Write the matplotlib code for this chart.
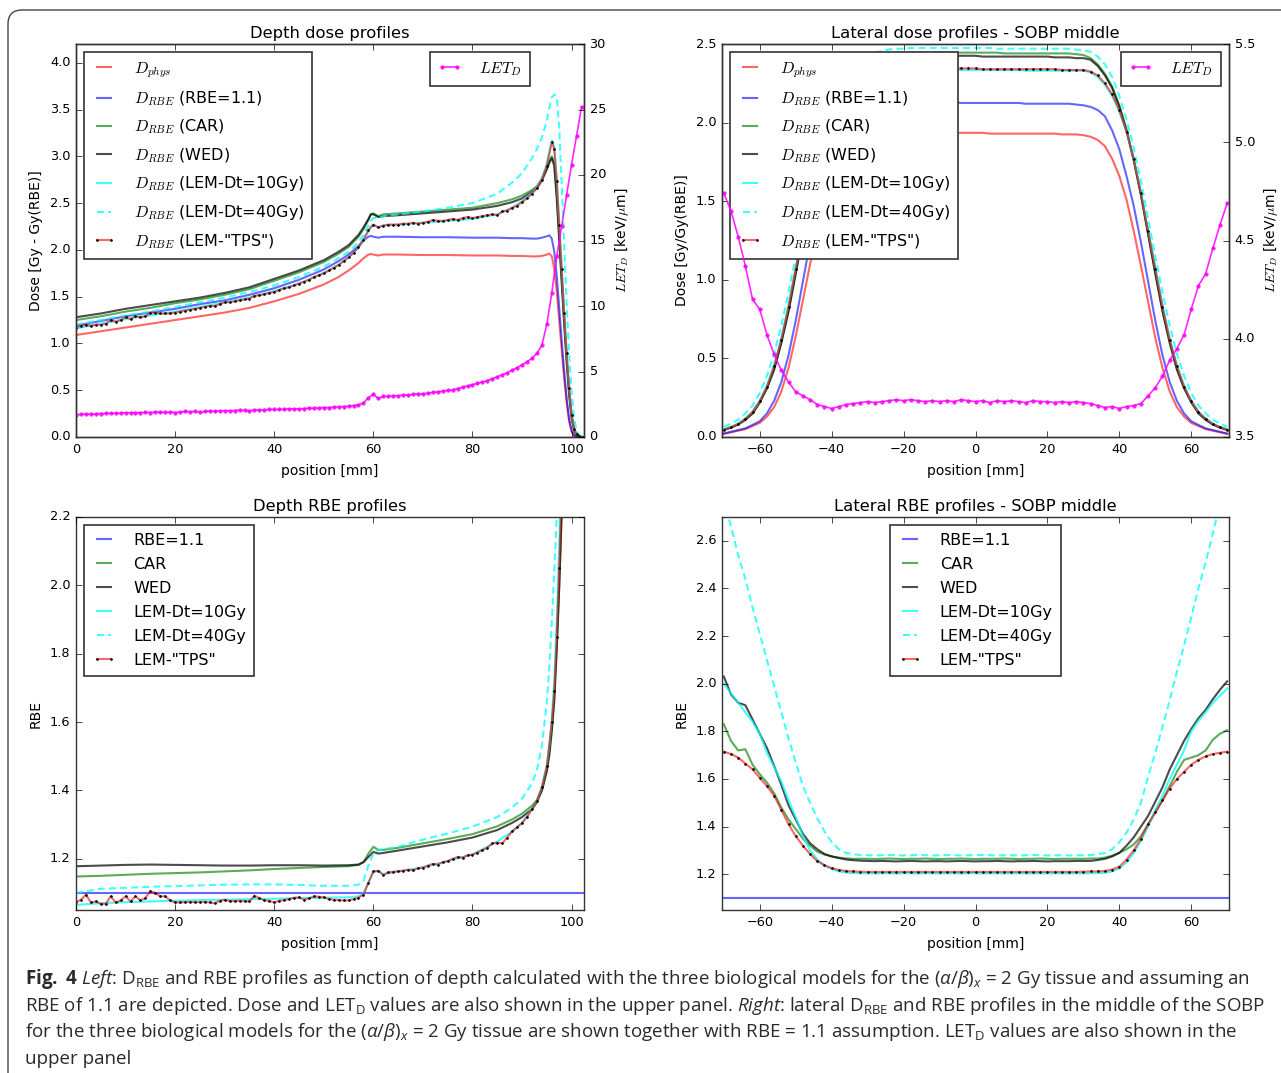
import numpy as np
import matplotlib
matplotlib.use('Agg')
import matplotlib.pyplot as plt
from matplotlib.patches import FancyBboxPatch
from matplotlib.transforms import IdentityTransform

# ---------------- depth profiles (left column) ----------------
depth_x = [0, 5, 10, 15, 20, 25, 30, 35, 40, 45, 50, 53, 55, 57, 58, 59, 59.5, 60, 61, 62,
           65, 70, 75, 80, 85, 88, 90, 92, 93, 94, 95, 95.5, 96, 96.5, 97, 97.5, 98, 98.5,
           99, 99.5, 100, 100.5, 101, 101.5, 102, 102.5]
dose_phys = [1.09, 1.13, 1.17, 1.21, 1.25, 1.29, 1.33, 1.38, 1.45, 1.53, 1.63, 1.71, 1.78, 1.86, 1.91,
             1.95, 1.955, 1.95, 1.94, 1.95, 1.95, 1.945, 1.945, 1.94, 1.94, 1.935, 1.935, 1.93, 1.93,
             1.935, 1.95, 1.96, 1.93, 1.80, 1.56, 1.25, 0.93, 0.63, 0.37, 0.17, 0.06, 0.015, 0.003,
             0, 0, 0]
dose_rbe11 = [1.19, 1.24, 1.29, 1.33, 1.37, 1.42, 1.46, 1.52, 1.59, 1.68, 1.79, 1.88, 1.95, 2.04, 2.10,
              2.14, 2.15, 2.14, 2.13, 2.14, 2.14, 2.135, 2.135, 2.13, 2.13, 2.125, 2.125, 2.12, 2.12,
              2.13, 2.145, 2.155, 2.12, 1.98, 1.72, 1.38, 1.03, 0.70, 0.41, 0.19, 0.065, 0.017, 0.003,
              0, 0, 0]
dose_car = [1.25, 1.29, 1.34, 1.38, 1.43, 1.47, 1.52, 1.58, 1.67, 1.76, 1.87, 1.96, 2.03, 2.14, 2.22,
            2.32, 2.38, 2.39, 2.36, 2.38, 2.39, 2.41, 2.43, 2.45, 2.50, 2.54, 2.58, 2.64, 2.68, 2.76,
            2.88, 2.95, 3.00, 2.93, 2.60, 2.15, 1.70, 1.25, 0.85, 0.48, 0.22, 0.08, 0.03, 0.01, 0, 0]
dose_wed = [1.28, 1.32, 1.37, 1.41, 1.45, 1.49, 1.54, 1.60, 1.69, 1.78, 1.89, 1.98, 2.05, 2.16, 2.24,
            2.33, 2.38, 2.38, 2.35, 2.36, 2.37, 2.39, 2.41, 2.43, 2.47, 2.51, 2.55, 2.62, 2.66, 2.74,
            2.86, 2.93, 2.98, 2.90, 2.55, 2.10, 1.65, 1.20, 0.80, 0.45, 0.20, 0.07, 0.02, 0.005, 0, 0]
dose_lem10 = [1.16, 1.21, 1.26, 1.30, 1.34, 1.39, 1.44, 1.49, 1.56, 1.64, 1.75, 1.84, 1.92, 2.02, 2.10,
              2.20, 2.25, 2.27, 2.24, 2.26, 2.27, 2.29, 2.31, 2.33, 2.38, 2.45, 2.52, 2.61, 2.67, 2.76,
              2.92, 3.05, 3.17, 3.10, 2.75, 2.28, 1.80, 1.33, 0.90, 0.52, 0.24, 0.09, 0.03, 0.01, 0, 0]
dose_lem40 = [1.20, 1.25, 1.30, 1.34, 1.39, 1.44, 1.49, 1.55, 1.62, 1.71, 1.82, 1.91, 1.98, 2.08, 2.16,
              2.26, 2.31, 2.34, 2.34, 2.36, 2.38, 2.41, 2.45, 2.50, 2.60, 2.72, 2.82, 2.98, 3.08, 3.20,
              3.38, 3.52, 3.63, 3.66, 3.64, 3.30, 2.70, 2.05, 1.42, 0.90, 0.48, 0.20, 0.07, 0.02,
              0.005, 0]

tps_depth_x = np.concatenate([np.arange(0, 97), np.arange(96.5, 102.6, 0.5)])
dose_tps = [1.17, 1.19, 1.20, 1.19, 1.20, 1.20, 1.21, 1.25, 1.23, 1.25,
            1.28, 1.26, 1.29, 1.28, 1.29, 1.33, 1.33, 1.32, 1.32, 1.32,
            1.33, 1.34, 1.35, 1.36, 1.37, 1.38, 1.39, 1.40, 1.40, 1.42,
            1.44, 1.44, 1.45, 1.46, 1.47, 1.48, 1.51, 1.515, 1.525, 1.54,
            1.55, 1.57, 1.59, 1.60, 1.62, 1.64, 1.66, 1.68, 1.71, 1.73,
            1.75, 1.78, 1.81, 1.84, 1.88, 1.92, 1.97, 2.03, 2.11, 2.21,
            2.27, 2.24, 2.26, 2.27, 2.27, 2.27, 2.28, 2.28, 2.29, 2.28,
            2.29, 2.30, 2.32, 2.31, 2.31, 2.32, 2.33, 2.32, 2.34, 2.35,
            2.34, 2.35, 2.36, 2.37, 2.38, 2.37, 2.41, 2.42, 2.45, 2.47,
            2.51, 2.55, 2.60, 2.66, 2.75, 2.90, 3.15,
            3.08, 2.74, 2.27, 1.80, 1.33, 0.90, 0.52, 0.24, 0.09, 0.03, 0.01, 0.0, 0.0]

let_depth_x = np.arange(0, 103)
let_depth = [1.70, 1.72, 1.75, 1.75, 1.76, 1.78, 1.80, 1.80, 1.80, 1.82, 1.85,
             1.85, 1.86, 1.85, 1.88, 1.86, 1.90, 1.90, 1.88, 1.90, 1.87,
             1.90, 1.95, 1.93, 1.95, 1.90, 1.95, 1.98, 1.95, 2.00, 2.00,
             2.00, 2.02, 2.05, 2.03, 2.00, 2.05, 2.05, 2.08, 2.10, 2.10,
             2.10, 2.12, 2.15, 2.14, 2.15, 2.17, 2.20, 2.20, 2.22, 2.25,
             2.25, 2.27, 2.30, 2.32, 2.35, 2.40, 2.45, 2.60, 3.00, 3.25,
             2.95, 3.10, 3.10, 3.15, 3.15, 3.20, 3.20, 3.25, 3.30, 3.30,
             3.35, 3.40, 3.45, 3.50, 3.55, 3.60, 3.70, 3.80, 3.90, 4.00,
             4.10, 4.20, 4.30, 4.45, 4.60, 4.75, 4.90, 5.10, 5.30, 5.50,
             5.75, 6.00, 6.40, 7.00, 8.60, 11.0, 13.8, 16.1, 18.5, 20.8, 23.0, 25.2]

rbe_depth_x = [0, 5, 10, 15, 20, 25, 30, 35, 40, 45, 50, 55, 57, 58, 59, 60, 61, 62, 65, 70,
               75, 80, 85, 88, 90, 92, 93, 94, 95, 95.5, 96, 96.5, 97, 97.5, 98, 98.5]
rbe11_depth_x = [0, 102.5]
rbe11_depth = [1.1, 1.1]
rbe_car = [1.148, 1.150, 1.153, 1.156, 1.158, 1.160, 1.163, 1.166, 1.170, 1.173, 1.176, 1.178,
           1.182, 1.190, 1.215, 1.235, 1.226, 1.226, 1.232, 1.245, 1.258, 1.272, 1.295, 1.315,
           1.332, 1.355, 1.372, 1.400, 1.455, 1.50, 1.57, 1.66, 1.81, 1.99, 2.21, 2.50]
rbe_wed = [1.178, 1.180, 1.182, 1.183, 1.182, 1.181, 1.180, 1.180, 1.181, 1.181, 1.180, 1.181,
           1.183, 1.190, 1.205, 1.220, 1.215, 1.217, 1.224, 1.236, 1.248, 1.262, 1.284, 1.305,
           1.322, 1.345, 1.365, 1.400, 1.46, 1.51, 1.58, 1.67, 1.82, 2.00, 2.22, 2.50]
rbe_lem10 = [1.065, 1.070, 1.073, 1.075, 1.077, 1.079, 1.080, 1.082, 1.083, 1.085, 1.086, 1.087,
             1.090, 1.097, 1.130, 1.160, 1.165, 1.155, 1.163, 1.175, 1.193, 1.213, 1.250, 1.280,
             1.305, 1.345, 1.370, 1.410, 1.475, 1.53, 1.61, 1.72, 1.90, 2.12, 2.38, 2.70]
rbe_lem40 = [1.100, 1.112, 1.115, 1.118, 1.120, 1.122, 1.124, 1.125, 1.125, 1.123, 1.121, 1.121,
             1.124, 1.135, 1.180, 1.215, 1.225, 1.228, 1.235, 1.256, 1.274, 1.294, 1.322, 1.350,
             1.376, 1.420, 1.460, 1.530, 1.66, 1.76, 1.89, 2.04, 2.20, 2.42, 2.70, 3.00]
tps_rbe_x = np.concatenate([np.arange(0, 97), [96.5, 97, 97.5, 98]])
rbe_tps = [1.073, 1.080, 1.095, 1.072, 1.075, 1.068, 1.068, 1.090, 1.072, 1.078,
           1.090, 1.075, 1.090, 1.078, 1.085, 1.105, 1.100, 1.090, 1.090, 1.078,
           1.072, 1.072, 1.073, 1.074, 1.073, 1.073, 1.074, 1.072, 1.070, 1.077,
           1.080, 1.076, 1.076, 1.077, 1.076, 1.075, 1.092, 1.085, 1.078, 1.077,
           1.072, 1.077, 1.079, 1.082, 1.086, 1.087, 1.080, 1.084, 1.090, 1.089,
           1.087, 1.082, 1.080, 1.079, 1.078, 1.078, 1.082, 1.086, 1.095, 1.130,
           1.163, 1.165, 1.152, 1.160, 1.162, 1.163, 1.165, 1.168, 1.166, 1.172,
           1.174, 1.180, 1.185, 1.183, 1.190, 1.193, 1.200, 1.205, 1.203, 1.210,
           1.212, 1.218, 1.225, 1.232, 1.245, 1.247, 1.245, 1.262, 1.280, 1.292,
           1.305, 1.322, 1.345, 1.370, 1.410, 1.470, 1.600,
           1.69, 1.85, 2.05, 2.30]

# ---------------- lateral profiles (right column), x = -70..70 step 2 ----------------
lat_x = np.arange(-70, 71, 2)
lat_phys = [0.02, 0.03, 0.04, 0.05, 0.07, 0.09, 0.13, 0.19, 0.29, 0.44,
            0.64, 0.87, 1.10, 1.32, 1.52, 1.66, 1.77, 1.85, 1.90, 1.92,
            1.93, 1.93, 1.935, 1.935, 1.935, 1.935, 1.935, 1.94, 1.935, 1.935,
            1.935, 1.935, 1.935, 1.935, 1.935, 1.935, 1.935, 1.93, 1.93, 1.93,
            1.93, 1.93, 1.93, 1.93, 1.93, 1.93, 1.93, 1.925, 1.925, 1.925,
            1.92, 1.91, 1.89, 1.85, 1.77, 1.66, 1.51, 1.31, 1.09, 0.86,
            0.63, 0.44, 0.29, 0.19, 0.13, 0.09, 0.07, 0.05, 0.04, 0.03,
            0.02]
lat_rbe11 = [0.022, 0.033, 0.044, 0.055, 0.077, 0.10, 0.15, 0.23, 0.35, 0.52,
             0.74, 0.99, 1.24, 1.47, 1.67, 1.83, 1.95, 2.04, 2.09, 2.11,
             2.12, 2.125, 2.125, 2.13, 2.13, 2.13, 2.13, 2.13, 2.13, 2.13,
             2.13, 2.13, 2.13, 2.125, 2.125, 2.125, 2.125, 2.125, 2.125, 2.125,
             2.125, 2.125, 2.12, 2.12, 2.12, 2.12, 2.12, 2.12, 2.12, 2.115,
             2.11, 2.10, 2.08, 2.04, 1.95, 1.83, 1.66, 1.47, 1.24, 0.99,
             0.74, 0.52, 0.35, 0.23, 0.15, 0.10, 0.077, 0.055, 0.044, 0.033,
             0.022]
lat_car = [0.045, 0.06, 0.08, 0.11, 0.15, 0.22, 0.31, 0.43, 0.60, 0.80,
           1.04, 1.29, 1.54, 1.76, 1.95, 2.11, 2.23, 2.31, 2.37, 2.41,
           2.43, 2.44, 2.44, 2.44, 2.445, 2.445, 2.445, 2.445, 2.445, 2.445,
           2.445, 2.445, 2.445, 2.445, 2.445, 2.445, 2.445, 2.445, 2.445, 2.44,
           2.44, 2.44, 2.44, 2.44, 2.44, 2.44, 2.44, 2.44, 2.44, 2.435,
           2.43, 2.41, 2.37, 2.31, 2.23, 2.11, 1.955, 1.765, 1.545, 1.295,
           1.045, 0.805, 0.605, 0.435, 0.315, 0.225, 0.155, 0.11, 0.08, 0.06,
           0.045]
lat_wed = [0.045, 0.06, 0.08, 0.11, 0.15, 0.22, 0.31, 0.43, 0.60, 0.80,
           1.04, 1.29, 1.54, 1.76, 1.95, 2.10, 2.22, 2.30, 2.36, 2.40,
           2.41, 2.415, 2.42, 2.42, 2.42, 2.425, 2.425, 2.425, 2.425, 2.425,
           2.425, 2.425, 2.425, 2.425, 2.425, 2.425, 2.42, 2.42, 2.42, 2.42,
           2.42, 2.42, 2.42, 2.42, 2.42, 2.42, 2.415, 2.415, 2.415, 2.41,
           2.41, 2.40, 2.36, 2.30, 2.22, 2.10, 1.95, 1.76, 1.54, 1.29,
           1.04, 0.80, 0.60, 0.43, 0.31, 0.22, 0.15, 0.11, 0.08, 0.06,
           0.045]
lat_lem10 = [0.05, 0.065, 0.085, 0.12, 0.16, 0.23, 0.33, 0.46, 0.63, 0.84,
             1.08, 1.32, 1.56, 1.77, 1.94, 2.07, 2.17, 2.24, 2.29, 2.32,
             2.33, 2.33, 2.335, 2.335, 2.335, 2.335, 2.335, 2.335, 2.335, 2.335,
             2.335, 2.335, 2.335, 2.335, 2.335, 2.335, 2.335, 2.335, 2.335, 2.335,
             2.335, 2.335, 2.33, 2.33, 2.33, 2.33, 2.33, 2.33, 2.33, 2.33,
             2.33, 2.32, 2.29, 2.24, 2.17, 2.07, 1.94, 1.77, 1.56, 1.32,
             1.08, 0.84, 0.63, 0.46, 0.33, 0.23, 0.16, 0.12, 0.085, 0.065,
             0.05]
lat_lem40 = [0.065, 0.085, 0.11, 0.15, 0.20, 0.28, 0.39, 0.53, 0.71, 0.92,
             1.15, 1.39, 1.63, 1.84, 2.02, 2.16, 2.27, 2.35, 2.40, 2.43,
             2.44, 2.445, 2.455, 2.465, 2.47, 2.47, 2.475, 2.475, 2.475, 2.475,
             2.475, 2.475, 2.475, 2.475, 2.475, 2.475, 2.475, 2.475, 2.47, 2.47,
             2.47, 2.47, 2.47, 2.47, 2.47, 2.47, 2.47, 2.47, 2.47, 2.465,
             2.46, 2.45, 2.42, 2.37, 2.29, 2.17, 2.02, 1.84, 1.63, 1.39,
             1.15, 0.92, 0.71, 0.53, 0.39, 0.28, 0.20, 0.15, 0.11, 0.085,
             0.065]
lat_tps = [0.047, 0.062, 0.083, 0.115, 0.16, 0.23, 0.32, 0.45, 0.62, 0.83,
           1.07, 1.31, 1.55, 1.77, 1.94, 2.08, 2.18, 2.25, 2.30, 2.325,
           2.335, 2.34, 2.34, 2.345, 2.345, 2.345, 2.345, 2.345, 2.345, 2.345,
           2.345, 2.345, 2.345, 2.345, 2.345, 2.345, 2.34, 2.34, 2.34, 2.34,
           2.34, 2.34, 2.34, 2.34, 2.34, 2.34, 2.34, 2.335, 2.335, 2.335,
           2.335, 2.325, 2.30, 2.25, 2.18, 2.08, 1.94, 1.77, 1.55, 1.31,
           1.07, 0.83, 0.62, 0.45, 0.32, 0.23, 0.16, 0.115, 0.083, 0.062,
           0.047]
lat_let = [4.74, 4.65, 4.52, 4.37, 4.20, 4.15, 4.02, 3.92, 3.84, 3.78,
           3.73, 3.71, 3.69, 3.665, 3.655, 3.645, 3.655, 3.665, 3.67, 3.675,
           3.68, 3.675, 3.68, 3.685, 3.69, 3.685, 3.69, 3.685, 3.68, 3.685,
           3.68, 3.685, 3.68, 3.69, 3.685, 3.68, 3.685, 3.675, 3.685, 3.68,
           3.685, 3.68, 3.675, 3.685, 3.68, 3.68, 3.675, 3.68, 3.675, 3.68,
           3.675, 3.67, 3.66, 3.65, 3.655, 3.645, 3.655, 3.66, 3.67, 3.71,
           3.75, 3.81, 3.89, 3.95, 4.02, 4.15, 4.27, 4.33, 4.46, 4.58,
           4.69]

lat_rbe11_x = [-70.5, 70.5]
lat_rbe11_val = [1.1, 1.1]
lat_rbe_car = [1.83, 1.76, 1.72, 1.725, 1.66, 1.62, 1.585, 1.54, 1.48, 1.43,
               1.39, 1.35, 1.32, 1.295, 1.283, 1.275, 1.27, 1.267, 1.265, 1.265,
               1.265, 1.264, 1.265, 1.266, 1.265, 1.264, 1.265, 1.265, 1.266, 1.265,
               1.264, 1.265, 1.265, 1.266, 1.265, 1.264, 1.265, 1.265, 1.265, 1.266,
               1.265, 1.264, 1.265, 1.265, 1.266, 1.265, 1.264, 1.265, 1.265, 1.265,
               1.265, 1.266, 1.266, 1.27, 1.278, 1.29, 1.305, 1.325, 1.36, 1.41,
               1.46, 1.51, 1.57, 1.63, 1.68, 1.69, 1.70, 1.72, 1.765, 1.79,
               1.805]
lat_rbe_wed = [2.03, 1.955, 1.92, 1.91, 1.85, 1.79, 1.73, 1.655, 1.575, 1.49,
               1.43, 1.37, 1.33, 1.305, 1.285, 1.275, 1.268, 1.262, 1.259, 1.257,
               1.256, 1.255, 1.256, 1.255, 1.254, 1.255, 1.256, 1.255, 1.254, 1.255,
               1.255, 1.254, 1.255, 1.256, 1.255, 1.254, 1.255, 1.255, 1.256, 1.255,
               1.254, 1.255, 1.255, 1.256, 1.255, 1.254, 1.255, 1.255, 1.255, 1.256,
               1.256, 1.256, 1.26, 1.265, 1.275, 1.29, 1.32, 1.355, 1.40, 1.445,
               1.505, 1.565, 1.64, 1.70, 1.76, 1.81, 1.855, 1.89, 1.935, 1.975,
               2.01]
lat_rbe_lem10 = [2.00, 1.96, 1.92, 1.88, 1.84, 1.79, 1.71, 1.65, 1.59, 1.51,
                 1.44, 1.36, 1.30, 1.262, 1.237, 1.222, 1.212, 1.207, 1.205, 1.204,
                 1.204, 1.203, 1.204, 1.204, 1.203, 1.204, 1.204, 1.203, 1.204, 1.204,
                 1.203, 1.204, 1.204, 1.203, 1.204, 1.204, 1.203, 1.204, 1.204, 1.203,
                 1.204, 1.204, 1.203, 1.204, 1.204, 1.203, 1.204, 1.204, 1.203, 1.204,
                 1.204, 1.204, 1.205, 1.206, 1.212, 1.225, 1.25, 1.29, 1.34, 1.40,
                 1.47, 1.53, 1.60, 1.66, 1.72, 1.80, 1.845, 1.88, 1.92, 1.95,
                 1.98]
lat_rbe_lem40 = [2.78, 2.66, 2.54, 2.44, 2.32, 2.21, 2.10, 1.99, 1.88, 1.77,
                 1.67, 1.57, 1.50, 1.435, 1.38, 1.335, 1.305, 1.29, 1.284, 1.281,
                 1.28, 1.279, 1.28, 1.281, 1.28, 1.279, 1.28, 1.281, 1.28, 1.279,
                 1.28, 1.281, 1.28, 1.279, 1.28, 1.28, 1.281, 1.28, 1.279, 1.28,
                 1.28, 1.279, 1.28, 1.281, 1.28, 1.279, 1.28, 1.28, 1.279, 1.28,
                 1.28, 1.281, 1.284, 1.29, 1.305, 1.335, 1.375, 1.43, 1.50, 1.61,
                 1.71, 1.82, 1.93, 2.05, 2.16, 2.28, 2.40, 2.51, 2.63, 2.76,
                 2.88]
lat_rbe_tps = [1.715, 1.705, 1.69, 1.665, 1.64, 1.605, 1.57, 1.53, 1.47, 1.41,
               1.36, 1.32, 1.285, 1.255, 1.238, 1.226, 1.218, 1.214, 1.212, 1.211,
               1.21, 1.21, 1.21, 1.21, 1.21, 1.21, 1.21, 1.21, 1.21, 1.21,
               1.21, 1.21, 1.21, 1.21, 1.21, 1.21, 1.21, 1.21, 1.21, 1.21,
               1.21, 1.21, 1.21, 1.21, 1.21, 1.21, 1.21, 1.21, 1.21, 1.21,
               1.211, 1.212, 1.212, 1.214, 1.22, 1.232, 1.262, 1.30, 1.35, 1.41,
               1.46, 1.51, 1.56, 1.60, 1.63, 1.66, 1.68, 1.695, 1.705, 1.71,
               1.715]

dose_labels = [r'$D_{phys}$', r'$D_{RBE}$ (RBE=1.1)', r'$D_{RBE}$ (CAR)', r'$D_{RBE}$ (WED)',
               r'$D_{RBE}$ (LEM-Dt=10Gy)', r'$D_{RBE}$ (LEM-Dt=40Gy)', r'$D_{RBE}$ (LEM-"TPS")']
rbe_labels = ['RBE=1.1', 'CAR', 'WED', 'LEM-Dt=10Gy', 'LEM-Dt=40Gy', 'LEM-"TPS"']

caption = [
    r'$\mathbf{Fig.\ 4}$ $\mathit{Left}$: D$_{\mathrm{RBE}}$ and RBE profiles as function of depth calculated with the three biological models for the $\mathit{(α/β)}_{\mathit{x}}$ = 2 Gy tissue and assuming an',
    r'RBE of 1.1 are depicted. Dose and LET$_{\mathrm{D}}$ values are also shown in the upper panel. $\mathit{Right}$: lateral D$_{\mathrm{RBE}}$ and RBE profiles in the middle of the SOBP',
    r'for the three biological models for the $\mathit{(α/β)}_{\mathit{x}}$ = 2 Gy tissue are shown together with RBE = 1.1 assumption. LET$_{\mathrm{D}}$ values are also shown in the',
    'upper panel',
]

# ---------------- style ----------------
plt.style.use('classic')
plt.rcParams.update({
    'figure.facecolor': 'white',
    'savefig.facecolor': 'white',
    'font.family': ['DejaVu Sans'],
    'mathtext.fontset': 'cm',
    'mathtext.rm': 'Open Sans',
    'mathtext.it': 'Open Sans:italic',
    'mathtext.bf': 'Open Sans:bold',
    'xtick.labelsize': 9.3,
    'ytick.labelsize': 9.3,
    'axes.linewidth': 1.0,
    'axes.edgecolor': '#333333',
})

RED = (1, 0, 0, 0.6)
BLUE = (0, 0, 1, 0.6)
GREEN = (0, 0.5, 0, 0.65)
BLACK = (0, 0, 0, 0.7)
CYAN = (0, 1, 1, 0.75)
MAG = (1, 0, 1, 0.85)
LW = 1.5
DASH = (0, (5, 3))
TPS_KW = dict(color=RED, lw=LW, marker='.', ms=2.6, mfc='k', mec='k')

W, H = 1281, 1073


def rect(l, t, r, b):
    return [l / W, 1 - b / H, (r - l) / W, (b - t) / H]


leg_kw = dict(fontsize=11.5, handlelength=1.5, handletextpad=1.1, borderpad=0.5,
              fancybox=False, numpoints=2)


def finish_legend(leg):
    leg.get_frame().set_linewidth(1.2)
    leg.get_frame().set_edgecolor('#333333')


def labels(ax, title, ylabel):
    ax.set_title(title, fontsize=11.8, pad=4)
    ax.set_xlabel('position [mm]', fontsize=10, labelpad=6)
    ax.set_ylabel(ylabel, fontsize=10)


fig = plt.figure(figsize=(W / 100, H / 100), dpi=100)

# --- top left: depth dose ---
ax = fig.add_axes(rect(76, 44, 584, 437))
ax.plot(depth_x, dose_phys, color=RED, lw=LW, label=dose_labels[0])
ax.plot(depth_x, dose_rbe11, color=BLUE, lw=LW, label=dose_labels[1])
ax.plot(depth_x, dose_car, color=GREEN, lw=LW, label=dose_labels[2])
ax.plot(depth_x, dose_wed, color=BLACK, lw=LW, label=dose_labels[3])
ax.plot(depth_x, dose_lem10, color=CYAN, lw=LW, label=dose_labels[4])
ax.plot(depth_x, dose_lem40, color=CYAN, lw=LW, ls=DASH, label=dose_labels[5])
ax.plot(tps_depth_x, dose_tps, label=dose_labels[6], **TPS_KW)
ax.set_xlim(0, 102.5)
ax.set_ylim(0, 4.2)
ax.set_xticks([0, 20, 40, 60, 80, 100])
ax.set_yticks(np.arange(0, 4.01, 0.5))
labels(ax, 'Depth dose profiles', 'Dose [Gy - Gy(RBE)]')
finish_legend(ax.legend(loc='upper left', borderaxespad=0.5, labelspacing=0.62, **leg_kw))
tw = ax.twinx()
tw.plot(let_depth_x, let_depth, color=MAG, lw=1.2, marker='.', ms=5, mec=MAG, mfc=MAG,
        label=r'$LET_D$')
tw.set_ylim(0, 30)
tw.set_yticks([0, 5, 10, 15, 20, 25, 30])
tw.set_ylabel(r'$LET_D$ [keV/$\mu$m]', fontsize=10)
finish_legend(tw.legend(loc='upper right', bbox_to_anchor=(0.894, 0.98), borderaxespad=0,
                        **leg_kw))

# --- top right: lateral dose ---
ax = fig.add_axes(rect(722, 44, 1229, 437))
ax.plot(lat_x, lat_phys, color=RED, lw=LW, label=dose_labels[0])
ax.plot(lat_x, lat_rbe11, color=BLUE, lw=LW, label=dose_labels[1])
ax.plot(lat_x, lat_car, color=GREEN, lw=LW, label=dose_labels[2])
ax.plot(lat_x, lat_wed, color=BLACK, lw=LW, label=dose_labels[3])
ax.plot(lat_x, lat_lem10, color=CYAN, lw=LW, label=dose_labels[4])
ax.plot(lat_x, lat_lem40, color=CYAN, lw=LW, ls=DASH, label=dose_labels[5])
ax.plot(lat_x, lat_tps, label=dose_labels[6], **TPS_KW)
ax.set_xlim(-70.5, 70.5)
ax.set_ylim(0, 2.5)
ax.set_xticks([-60, -40, -20, 0, 20, 40, 60])
ax.set_yticks(np.arange(0, 2.51, 0.5))
labels(ax, 'Lateral dose profiles - SOBP middle', 'Dose [Gy/Gy(RBE)]')
finish_legend(ax.legend(loc='upper left', borderaxespad=0.5, labelspacing=0.62, **leg_kw))
tw = ax.twinx()
tw.plot(lat_x, lat_let, color=MAG, lw=1.2, marker='.', ms=5, mec=MAG, mfc=MAG,
        label=r'$LET_D$')
tw.set_ylim(3.5, 5.5)
tw.set_yticks([3.5, 4.0, 4.5, 5.0, 5.5])
tw.set_ylabel(r'$LET_D$ [keV/$\mu$m]', fontsize=10)
finish_legend(tw.legend(loc='upper right', borderaxespad=0.5, **leg_kw))

# --- bottom left: depth RBE ---
ax = fig.add_axes(rect(76, 517, 584, 910))
ax.plot(rbe11_depth_x, rbe11_depth, color=BLUE, lw=LW, label=rbe_labels[0])
ax.plot(rbe_depth_x, rbe_car, color=GREEN, lw=LW, label=rbe_labels[1])
ax.plot(rbe_depth_x, rbe_wed, color=BLACK, lw=LW, label=rbe_labels[2])
ax.plot(rbe_depth_x, rbe_lem10, color=CYAN, lw=LW, label=rbe_labels[3])
ax.plot(rbe_depth_x, rbe_lem40, color=CYAN, lw=LW, ls=DASH, label=rbe_labels[4])
ax.plot(tps_rbe_x, rbe_tps, label=rbe_labels[5], **TPS_KW)
ax.set_xlim(0, 102.5)
ax.set_ylim(1.05, 2.2)
ax.set_xticks([0, 20, 40, 60, 80, 100])
ax.set_yticks([1.2, 1.4, 1.6, 1.8, 2.0, 2.2])
labels(ax, 'Depth RBE profiles', 'RBE')
finish_legend(ax.legend(loc='upper left', borderaxespad=0.5, labelspacing=0.56, **leg_kw))

# --- bottom right: lateral RBE ---
ax = fig.add_axes(rect(722, 517, 1229, 910))
ax.plot(lat_rbe11_x, lat_rbe11_val, color=BLUE, lw=LW, label=rbe_labels[0])
ax.plot(lat_x, lat_rbe_car, color=GREEN, lw=LW, label=rbe_labels[1])
ax.plot(lat_x, lat_rbe_wed, color=BLACK, lw=LW, label=rbe_labels[2])
ax.plot(lat_x, lat_rbe_lem10, color=CYAN, lw=LW, label=rbe_labels[3])
ax.plot(lat_x, lat_rbe_lem40, color=CYAN, lw=LW, ls=DASH, label=rbe_labels[4])
ax.plot(lat_x, lat_rbe_tps, label=rbe_labels[5], **TPS_KW)
ax.set_xlim(-70.5, 70.5)
ax.set_ylim(1.05, 2.7)
ax.set_xticks([-60, -40, -20, 0, 20, 40, 60])
ax.set_yticks([1.2, 1.4, 1.6, 1.8, 2.0, 2.2, 2.4, 2.6])
labels(ax, 'Lateral RBE profiles - SOBP middle', 'RBE')
finish_legend(ax.legend(loc='upper center', borderaxespad=0.5, labelspacing=0.56, **leg_kw))

# --- outer frame and caption ---
frame = FancyBboxPatch((8, -40), 1340, H - 10 + 40, boxstyle='round,pad=0,rounding_size=14',
                       transform=IdentityTransform(), fill=False, edgecolor='#444444', lw=1.0)
fig.add_artist(frame)

baselines = [984, 1011, 1037, 1064]
cap_texts = []
for line, yb in zip(caption, baselines):
    cap_texts.append(fig.text(25 / W, 1 - yb / H, line, fontsize=13, family='Open Sans',
                              color='#2a2a2a', va='baseline', ha='left',
                              math_fontfamily='custom'))
renderer = fig.canvas.get_renderer()
scale = 1223.0 / cap_texts[0].get_window_extent(renderer).width
for t in cap_texts:
    t.set_fontsize(13 * scale)

fig.savefig('out.png', dpi=100)
